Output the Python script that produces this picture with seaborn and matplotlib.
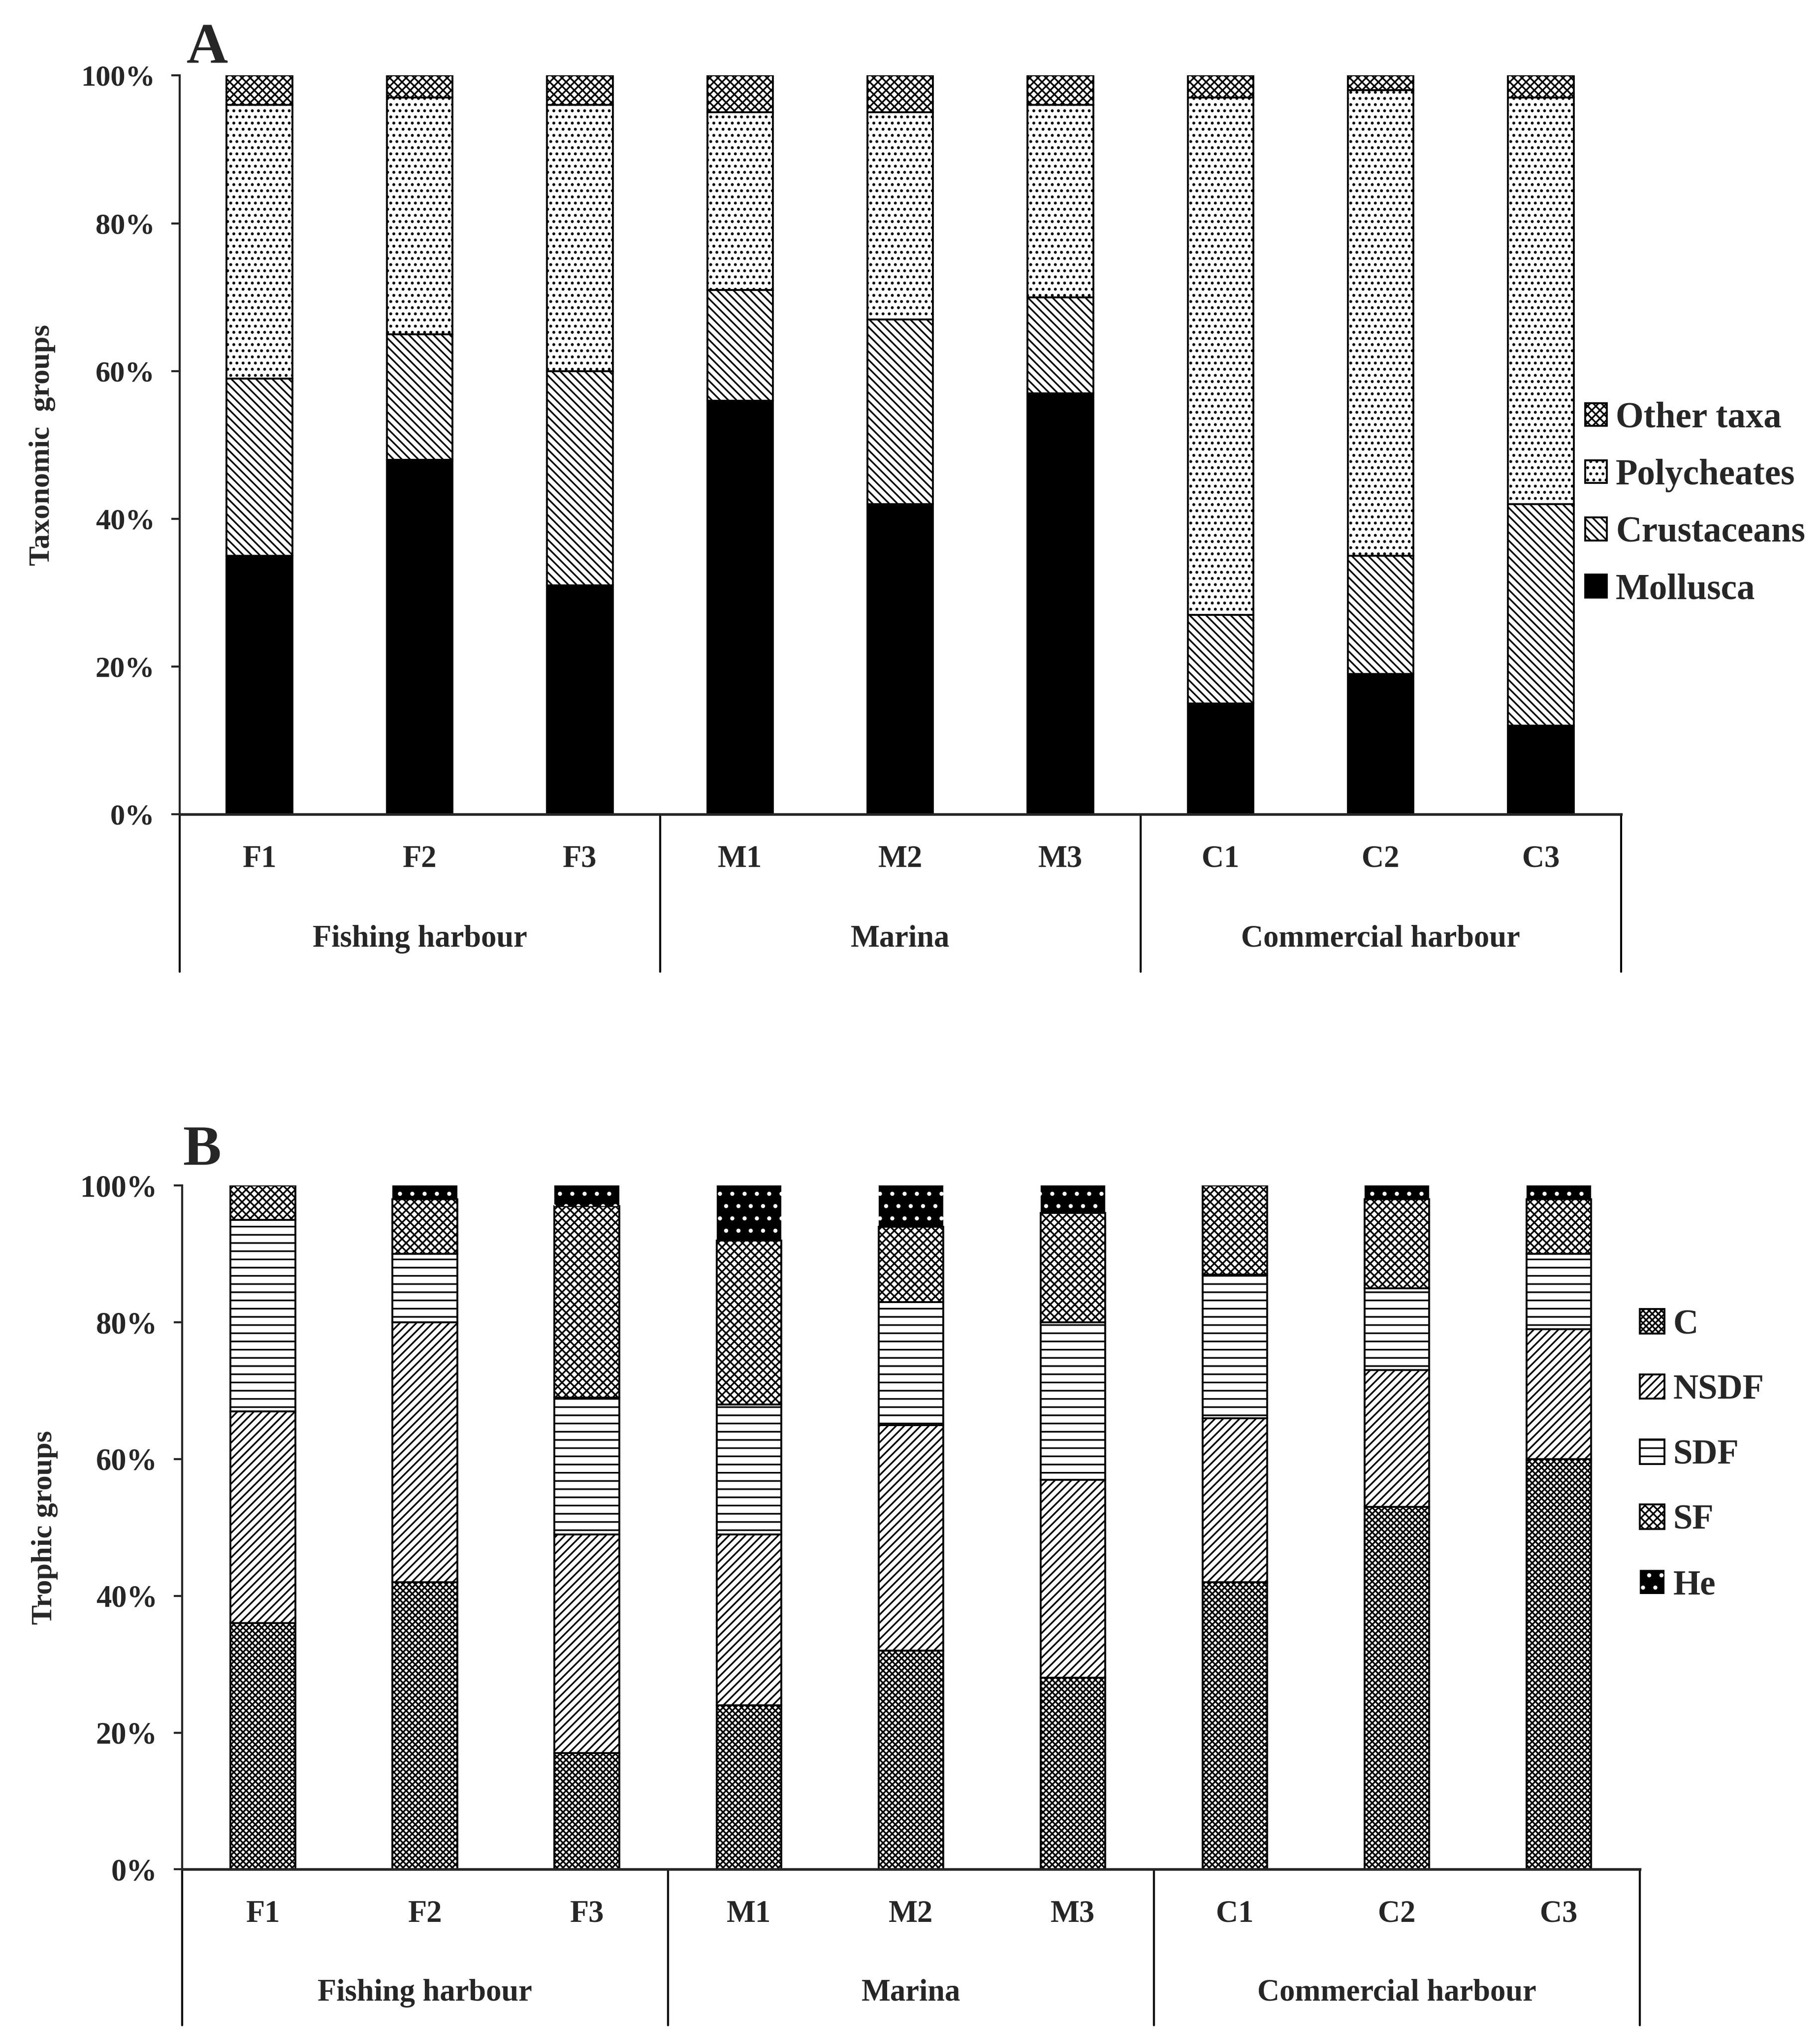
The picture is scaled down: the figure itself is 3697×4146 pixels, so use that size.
import numpy as np
import matplotlib.pyplot as plt
import matplotlib.transforms as mtransforms
from matplotlib.patches import Patch
from matplotlib.ticker import PercentFormatter
import seaborn as sns

# sites and harbour types
sites = ["F1", "F2", "F3", "M1", "M2", "M3", "C1", "C2", "C3"]
areas = ["Fishing harbour", "Marina", "Commercial harbour"]

# Panel A - taxonomic groups (%), bottom to top
taxa = ["Mollusca", "Crustaceans", "Polycheates", "Other taxa"]
mollusca = [35, 48, 31, 56, 42, 57, 15, 19, 12]
crustaceans = [24, 17, 29, 15, 25, 13, 12, 16, 30]
polycheates = [37, 32, 36, 24, 28, 26, 70, 63, 55]
other_taxa = [4, 3, 4, 5, 5, 4, 3, 2, 3]

# Panel B - trophic groups (%), bottom to top
trophic = ["C", "NSDF", "SDF", "SF", "He"]
carn = [36, 42, 17, 24, 32, 28, 42, 53, 60]
nsdf = [31, 38, 32, 25, 33, 29, 24, 20, 19]
sdf = [28, 10, 20, 19, 18, 23, 21, 12, 11]
sf = [5, 8, 28, 24, 11, 16, 13, 13, 8]
he = [0, 2, 3, 8, 6, 4, 0, 2, 2]

sns.set_style("white")
plt.rcParams["font.family"] = ["Liberation Serif", "DejaVu Serif"]
plt.rcParams["font.weight"] = "bold"
plt.rcParams["hatch.linewidth"] = 0.8

# styles for each layer
style_a = {
    "Mollusca": dict(facecolor="black", edgecolor="black", hatch=None),
    "Crustaceans": dict(facecolor="white", edgecolor="black", hatch="\\\\\\\\\\\\"),
    "Polycheates": dict(facecolor="white", edgecolor="black", hatch="...."),
    "Other taxa": dict(facecolor="white", edgecolor="black", hatch="xxxxxx"),
}
style_b = {
    "C": dict(facecolor="white", edgecolor="black", hatch="xxxxxxxx"),
    "NSDF": dict(facecolor="white", edgecolor="black", hatch="//////"),
    "SDF": dict(facecolor="white", edgecolor="black", hatch="---"),
    "SF": dict(facecolor="white", edgecolor="black", hatch="xxxxxx"),
    "He": dict(facecolor="black", edgecolor="white", hatch=".."),
}

fig = plt.figure(figsize=(3697 / 300, 4146 / 300), dpi=300)
ax_a = fig.add_axes([0.0986, 0.601, 0.792, 0.362])
ax_b = fig.add_axes([0.100, 0.0841, 0.801, 0.335])


def stacked(ax, names, layers, styles, width):
    bottom = np.zeros(len(sites))
    for name, vals in zip(names, layers):
        st = styles[name]
        lw = 0 if name == "He" else 0.9
        sns.barplot(x=sites, y=vals, order=sites, ax=ax, width=width,
                    color=st["facecolor"], saturation=1, edgecolor=st["edgecolor"],
                    hatch=st["hatch"], linewidth=lw, bottom=bottom)
        bottom = bottom + np.array(vals)


def dress(ax, depth, lab_y, ylabel, tick_fs, label_x):
    ax.set_xlim(-0.5, len(sites) - 0.5)
    ax.set_ylim(0, 100)
    ax.set_yticks(range(0, 101, 20))
    ax.yaxis.set_major_formatter(PercentFormatter(xmax=100, decimals=0))
    ax.tick_params(axis="y", direction="out", length=4, width=1, pad=8,
                   labelsize=tick_fs, left=True)
    ax.tick_params(axis="x", length=0, pad=15, labelsize=15)
    for lab in ax.get_xticklabels() + ax.get_yticklabels():
        lab.set_fontweight("bold")
    sns.despine(ax=ax)
    ax.spines["left"].set_linewidth(1.0)
    ax.spines["bottom"].set_linewidth(1.3)
    ax.set_xlabel("")
    ax.set_ylabel(ylabel, fontsize=14.5, fontweight="bold")
    ax.yaxis.set_label_coords(label_x, 0.5)
    trans = mtransforms.blended_transform_factory(ax.transData, ax.transAxes)
    for xs in [-0.5, 2.5, 5.5, 8.5]:
        ax.plot([xs, xs], [0, -depth], color="black", lw=1.0,
                transform=trans, clip_on=False)
    for i, area in enumerate(areas):
        ax.text(3 * i + 1, -lab_y, area, transform=trans, ha="center",
                va="center", fontsize=15, fontweight="bold")


stacked(ax_a, taxa, [mollusca, crustaceans, polycheates, other_taxa], style_a, 0.41)
dress(ax_a, 0.213, 0.169, "Taxonomic  groups", 14.5, -0.086)

stacked(ax_b, trophic, [carn, nsdf, sdf, sf, he], style_b, 0.40)
dress(ax_b, 0.228, 0.181, "Trophic groups", 15, -0.085)

# legends (top entry = top of stack)
handles_a = [Patch(facecolor=style_a[n]["facecolor"], edgecolor=style_a[n]["edgecolor"],
                   hatch=style_a[n]["hatch"], linewidth=0.9) for n in taxa[::-1]]
fig.legend(handles_a, taxa[::-1], loc="center left", bbox_to_anchor=(0.871, 0.753),
           frameon=False, prop={"family": "Liberation Serif", "weight": "bold", "size": 17.5},
           handlelength=0.6, handleheight=0.6, handletextpad=0.25, labelspacing=0.66,
           borderpad=0, borderaxespad=0)

handles_b = [Patch(facecolor=style_b[n]["facecolor"], edgecolor="black" if n != "He" else "white",
                   hatch=style_b[n]["hatch"], linewidth=0.9 if n != "He" else 0)
             for n in trophic]
fig.legend(handles_b, trophic, loc="center left", bbox_to_anchor=(0.901, 0.287),
           frameon=False, prop={"family": "Liberation Serif", "weight": "bold", "size": 17},
           handlelength=0.7, handleheight=0.7, handletextpad=0.25, labelspacing=0.95,
           borderpad=0, borderaxespad=0)

fig.text(0.114, 0.976, "A", fontsize=28, fontweight="bold", ha="center", va="center")
fig.text(0.111, 0.436, "B", fontsize=28, fontweight="bold", ha="center", va="center")

fig.savefig("out.png", dpi=300, facecolor="white")
